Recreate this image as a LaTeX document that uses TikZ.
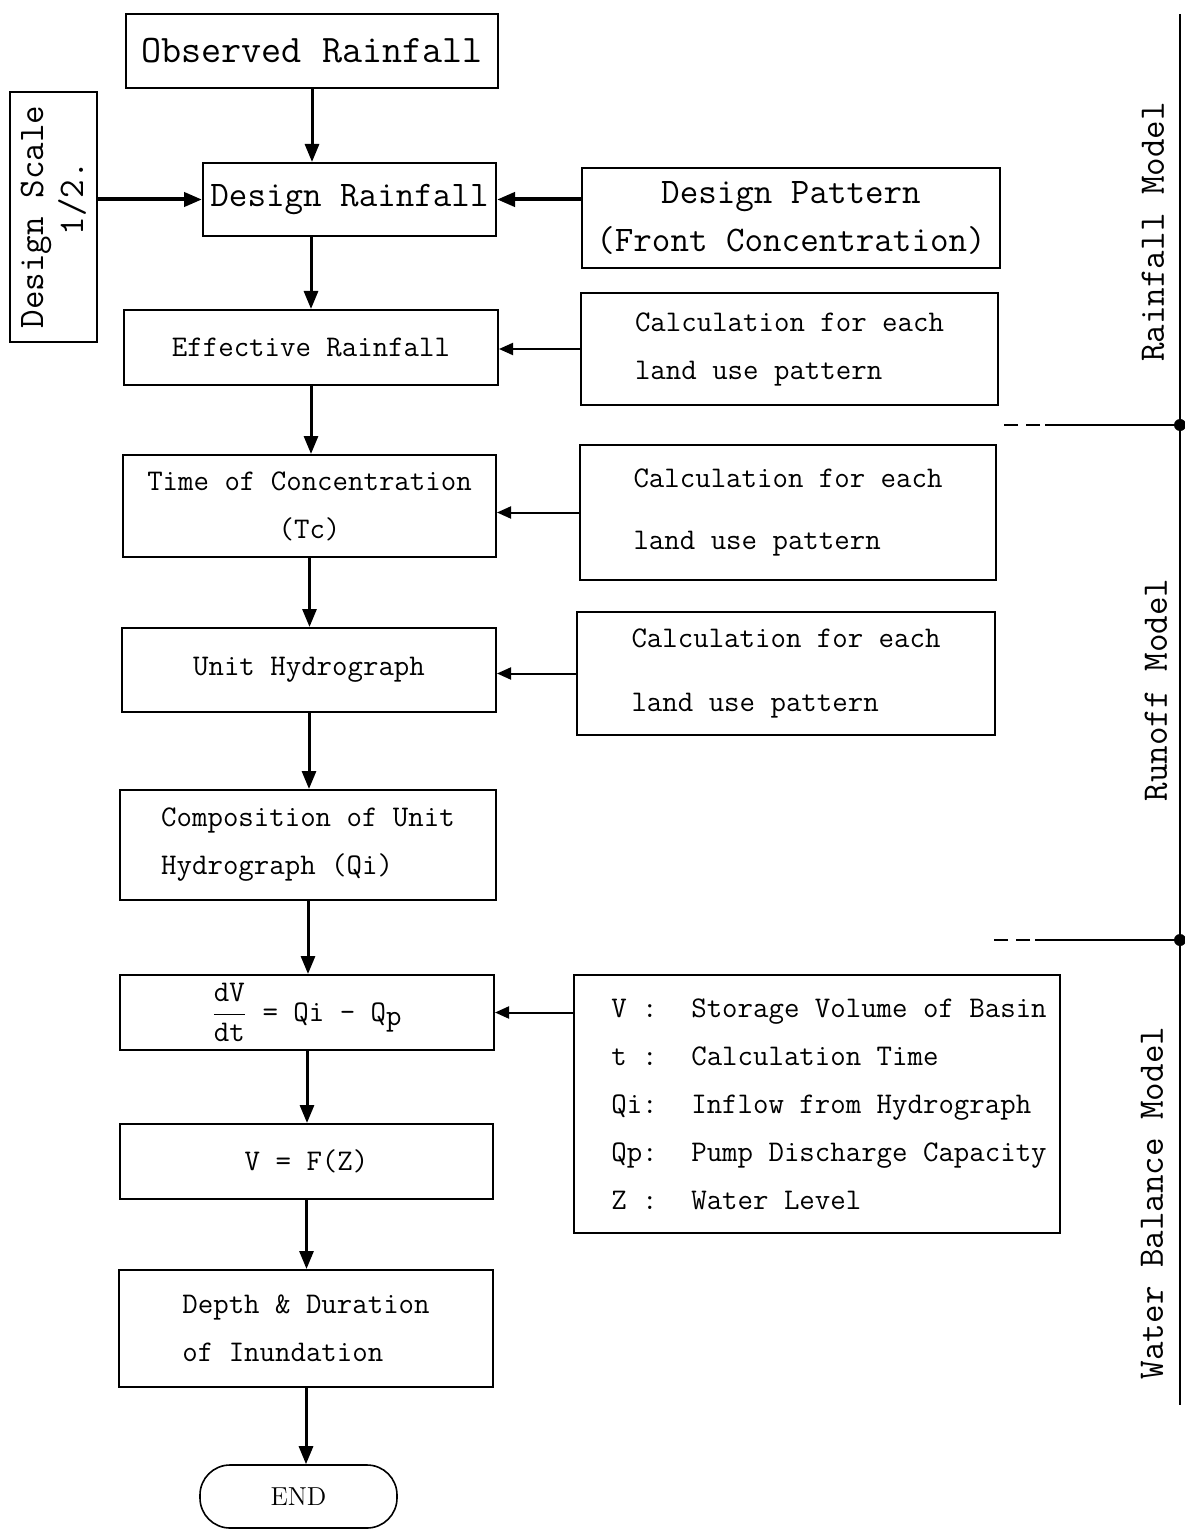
\documentclass[tikz,border=0pt]{standalone}
\usepackage{fontspec}
\usetikzlibrary{arrows.meta}

\begin{document}
\begin{tikzpicture}[x=0.5pt,y=-0.5pt,
    box/.style={draw,line width=1pt,inner sep=0pt,align=center,font=\ttfamily\fontsize{15}{24}\selectfont},
    side/.style={box,align=left},
    big/.style={font=\ttfamily\fontsize{18}{24}\selectfont},
    flow/.style={line width=1.5pt,-{Triangle[length=9pt,width=7pt]}},
    feed/.style={line width=1pt,-{Triangle[length=7pt,width=6pt]}},
    part/.style={line width=1.2pt},
    lbl/.style={rotate=90,font=\ttfamily\fontsize{18}{24}\selectfont}]
  \useasboundingbox (0,0) rectangle (1184,1534);

  \node[box,minimum width=186pt,minimum height=37pt,font=\ttfamily\fontsize{19.5}{24}\selectfont] (obs) at (312,51) {Observed Rainfall};
  \node[box,rotate=90,minimum width=125pt,minimum height=43.5pt,font=\ttfamily\fontsize{18}{20}\selectfont] (scale) at (53.5,217) {Design Scale\\\hphantom{xx}1/2.};
  \node[box,big,minimum width=146.5pt,minimum height=36.5pt] (dr) at (349.5,199.5) {Design Rainfall};
  \node[box,big,minimum width=209pt,minimum height=50pt] (dp) at (791,218) {Design Pattern\\(Front Concentration)};
  \node[box,minimum width=187pt,minimum height=37.5pt] (eff) at (311,347.5) {Effective Rainfall};
  \node[side,minimum width=208.5pt,minimum height=56pt] (c1) at (789.5,349) {Calculation for each\\land use pattern};
  \node[box,minimum width=186.5pt,minimum height=51pt] (tc) at (309.5,506) {Time of Concentration\\(Tc)};
  \node[side,minimum width=208pt,minimum height=67.5pt,font=\ttfamily\fontsize{15}{31}\selectfont] (c2) at (788,512.5) {Calculation for each\\land use pattern};
  \node[box,minimum width=187pt,minimum height=42pt] (uh) at (309,670) {Unit Hydrograph};
  \node[side,minimum width=209pt,minimum height=61.5pt,font=\ttfamily\fontsize{15}{32}\selectfont] (c3) at (786,673.5) {Calculation for each\\land use pattern};
  \node[side,minimum width=188pt,minimum height=55pt] (comp) at (308,845) {Composition of Unit\\Hydrograph (Qi)};
  \node[box,minimum width=187pt,minimum height=37.5pt] (bal) at (307,1012.5) {$\displaystyle\frac{\texttt{dV}}{\texttt{dt}}$ = Qi - Q$_{\texttt{p}}$};
  \node[box,align=left,minimum width=243pt,minimum height=129pt] (leg) at (817,1104) {\begin{tabular}{@{\hspace{12pt}}p{40pt}@{}l@{}}
    V :&Storage Volume of Basin\\
    t :&Calculation Time\\
    Qi:&Inflow from Hydrograph\\
    Qp:&Pump Discharge Capacity\\
    Z :&Water Level
  \end{tabular}};
  \node[box,minimum width=186.5pt,minimum height=37.5pt] (vz) at (306.5,1161.5) {V = F(Z)};
  \node[side,minimum width=187pt,minimum height=58.5pt] (depth) at (306,1328.5) {Depth \& Duration\\of Inundation};
  \node[draw,line width=0.8pt,rounded corners=15pt,minimum width=98.5pt,minimum height=31.5pt,font=\rmfamily\fontsize{13}{15}\selectfont] (end) at (298.5,1496.5) {END};

  \draw[flow] (obs.south) -- (obs.south |- dr.north);
  \draw[flow] (dr.south -| eff) -- (eff.north);
  \draw[flow] (eff.south) -- (eff.south |- tc.north);
  \draw[flow] (tc.south) -- (tc.south |- uh.north);
  \draw[flow] (uh.south) -- (uh.south |- comp.north);
  \draw[flow] (comp.south) -- (comp.south |- bal.north);
  \draw[flow] (bal.south) -- (bal.south |- vz.north);
  \draw[flow] (vz.south) -- (vz.south |- depth.north);
  \draw[flow] (depth.south) -- (depth.south |- end.north);

  \draw[flow,line width=2pt] (scale.south |- dr.west) -- (dr.west);
  \draw[flow,line width=2pt] (dp.west |- dr.east) -- (dr.east);
  \draw[feed] (c1.west) -- (c1.west -| eff.east);
  \draw[feed] (c2.west) -- (c2.west -| tc.east);
  \draw[feed] (c3.west) -- (c3.west -| uh.east);
  \draw[feed] (leg.west |- bal.east) -- (bal.east);

  \coordinate (top) at (1180,14);
  \coordinate (bot) at (1180,1405);
  \coordinate (j1) at (1180,425);
  \coordinate (j2) at (1180,940);
  \draw[part] (top) -- (bot);
  \fill (j1) circle (3pt);
  \fill (j2) circle (3pt);
  \draw[part] (j1) -- ++(-135,0);
  \draw[part,dash pattern=on 7pt off 4pt] (j1) ++(-140,0) -- ++(-40,0);
  \draw[part] (j2) -- ++(-145,0);
  \draw[part,dash pattern=on 7pt off 4pt] (j2) ++(-150,0) -- ++(-38,0);

  \node[lbl] (rm) at (1153,232) {Rainfall Model};
  \node[lbl] (ro) at (1156,690) {Runoff Model};
  \node[lbl] (wb) at (1152,1203) {Water Balance Model};
\end{tikzpicture}
\end{document}
